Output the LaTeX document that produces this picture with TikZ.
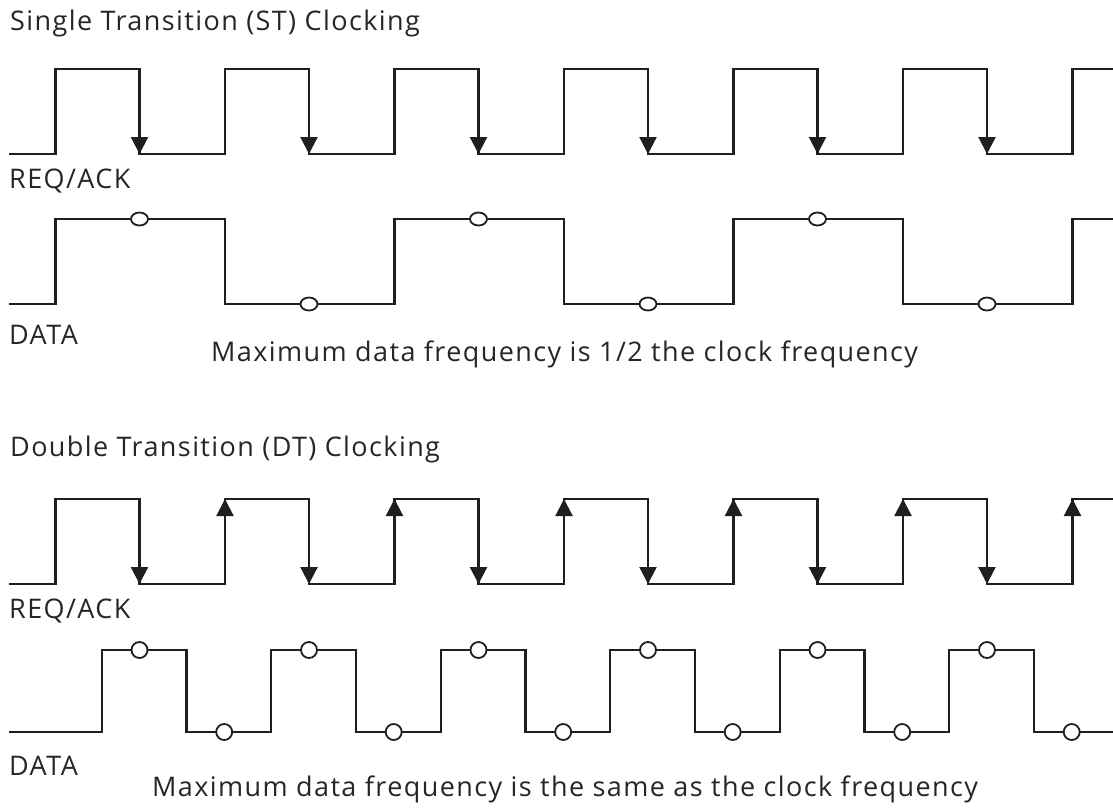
\documentclass[tikz,border=0pt]{standalone}
\usepackage{fontspec}
\setmainfont{Open Sans}[LetterSpace=5.2]
\usetikzlibrary{arrows.meta,shapes.geometric}
\begin{document}
\begin{tikzpicture}[x=1pt,y=-1pt,
  wave/.style={line width=2.2pt,draw=black!88,line join=miter},
  edgearrow/.style={line width=2.2pt,draw=black!88,-{Triangle[width=17pt,length=17pt]}},
  lbl/.style={anchor=base west,inner sep=0pt,font=\fontsize{27}{31}\selectfont,text=black!85},
  dotst/.style={ellipse,draw=black!88,line width=1.8pt,fill=white,minimum width=17pt,minimum height=13pt,inner sep=0pt},
  dotdt/.style={circle,draw=black!88,line width=1.8pt,fill=white,minimum size=16pt,inner sep=0pt}]
\useasboundingbox (0,0) rectangle (1113,807);
\pgfmathsetmacro{\p}{169.5}
% titles and labels
\node[lbl] (t1) at (10,30) {Single Transition (ST) Clocking};
\node[lbl] (l1) at (9,188) {REQ/ACK};
\node[lbl] (l2) at (9,344) {DATA};
\node[lbl] (m1) at (211,361.5) {Maximum data frequency is 1/2 the clock frequency};
\node[lbl] (t2) at (10,456.5) {Double Transition (DT) Clocking};
\node[lbl] (l3) at (9,618) {REQ/ACK};
\node[lbl] (l4) at (9,775) {DATA};
\node[lbl] (m2) at (152,796.5) {Maximum data frequency is the same as the clock frequency};
% ST clock
\draw[wave] (9,154) \foreach \k in {0,...,5}{ -- ({55.5+\p*\k},154) -- ({55.5+\p*\k},69) -- ({139.5+\p*\k},69) -- ({139.5+\p*\k},154) } -- (1072.5,154) -- (1072.5,69) -- (1113,69);
\foreach \k in {0,...,5}{ \draw[edgearrow] ({139.5+\p*\k},100) -- ({139.5+\p*\k},154); }
% ST data
\draw[wave] (9,304) \foreach \k in {0,1,2}{ -- ({55.5+2*\p*\k},304) -- ({55.5+2*\p*\k},219) -- ({225+2*\p*\k},219) -- ({225+2*\p*\k},304) } -- (1072.5,304) -- (1072.5,219) -- (1113,219);
\foreach \k in {0,1,2}{
  \node[dotst] (sh\k) at ({139.5+2*\p*\k},219) {};
  \node[dotst] (sl\k) at ({309+2*\p*\k},304) {};
}
% DT clock
\draw[wave] (9,584) \foreach \k in {0,...,5}{ -- ({55.5+\p*\k},584) -- ({55.5+\p*\k},499) -- ({139.5+\p*\k},499) -- ({139.5+\p*\k},584) } -- (1072.5,584) -- (1072.5,499) -- (1113,499);
\foreach \k in {0,...,5}{ \draw[edgearrow] ({139.5+\p*\k},530) -- ({139.5+\p*\k},584); }
\foreach \k in {1,...,6}{ \draw[edgearrow] ({55.5+\p*\k},553) -- ({55.5+\p*\k},499); }
% DT data
\draw[wave] (9,732) \foreach \k in {0,...,5}{ -- ({101.7+\p*\k},732) -- ({101.7+\p*\k},650) -- ({186.4+\p*\k},650) -- ({186.4+\p*\k},732) } -- (1113,732);
\foreach \k in {0,...,5}{
  \node[dotdt] (dh\k) at ({139.5+\p*\k},650) {};
  \node[dotdt] (dl\k) at ({224.2+\p*\k},732) {};
}
\end{tikzpicture}
\end{document}
